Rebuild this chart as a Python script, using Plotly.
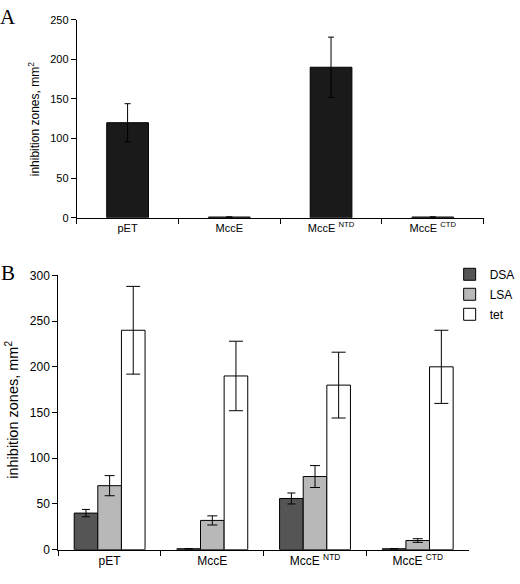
import plotly.graph_objects as go

# Panel A data
cats_a = ["pET", "MccE", "MccE <sup>NTD</sup>", "MccE <sup>CTD</sup>"]
vals_a = [120, 1, 190, 1]
err_a = [24, 0, 38, 0]

# Panel B data
cats_b = ["pET", "MccE", "MccE <sup>NTD</sup>", "MccE <sup>CTD</sup>"]
dsa = [40, 1, 56, 1]
dsa_err = [4, 0, 6, 0]
lsa = [70, 32, 80, 10]
lsa_err = [11, 5, 12, 2]
tet = [240, 190, 180, 200]
tet_err = [48, 38, 36, 40]

W, H = 520, 584
def px(x): return x / W
def py(y): return 1 - y / H

fig = go.Figure()

fig.add_trace(go.Bar(
    x=cats_a, y=vals_a, width=0.41, showlegend=False,
    marker=dict(color="#1a1a1a", line=dict(color="black", width=1)),
    error_y=dict(type="data", array=err_a, color="black", thickness=1, width=3),
    xaxis="x", yaxis="y",
))

for name, vals, errs, col, ew in [("DSA", dsa, dsa_err, "#555555", 4),
                                  ("LSA", lsa, lsa_err, "#b8b8b8", 5),
                                  ("tet", tet, tet_err, "#ffffff", 7)]:
    fig.add_trace(go.Bar(
        x=cats_b, y=vals, name=name, legendgroup=name,
        marker=dict(color=col, line=dict(color="black", width=1)),
        error_y=dict(type="data", array=errs, color="black", thickness=1, width=ew),
        xaxis="x2", yaxis="y2",
    ))

axis_common = dict(showline=True, linecolor="black", linewidth=1, ticks="outside",
                   tickcolor="black", ticklen=5, showgrid=False, zeroline=False)

def ann(text, x, y, size, family=None, angle=0):
    f = dict(size=size)
    if family:
        f["family"] = family
    return dict(text=text, x=px(x), y=py(y), xref="paper", yref="paper",
                xanchor="center", yanchor="middle", textangle=angle,
                showarrow=False, font=f)

fig.update_layout(
    width=W, height=H,
    margin=dict(l=0, r=0, t=0, b=0),
    paper_bgcolor="white", plot_bgcolor="white",
    font=dict(family="Liberation Sans, Arial, sans-serif", color="black", size=11),
    barmode="group", bargap=0.31, bargroupgap=0,
    xaxis=dict(domain=[px(79), px(498)], type="category", tickson="boundaries",
               anchor="y", tickfont=dict(size=11), **axis_common),
    yaxis=dict(domain=[py(216), py(13)], range=[0, 250], dtick=50, anchor="x",
               tickfont=dict(size=11), **axis_common),
    xaxis2=dict(domain=[px(60), px(483)], type="category", tickson="boundaries",
                anchor="y2", tickfont=dict(size=12), **axis_common),
    yaxis2=dict(domain=[py(556), py(275)], range=[0, 300], dtick=50, anchor="x2",
                tickfont=dict(size=12), **axis_common),
    legend=dict(x=px(463), y=py(259), xanchor="left", yanchor="top",
                font=dict(size=12), bgcolor="rgba(0,0,0,0)",
                traceorder="grouped", tracegroupgap=1),
    annotations=[
        ann("inhibition zones, mm<sup>2</sup>", 35, 115, 12, angle=-90),
        ann("inhibition zones, mm<sup>2</sup>", 12, 413, 14.5, angle=-90),
        ann("A", 8, 10, 21, family="Liberation Serif, Times New Roman, serif"),
        ann("B", 8, 273, 21, family="Liberation Serif, Times New Roman, serif"),
    ],
)

fig.write_html("out.html", config={"displayModeBar": False},
               post_script="document.body.style.margin='0';")
